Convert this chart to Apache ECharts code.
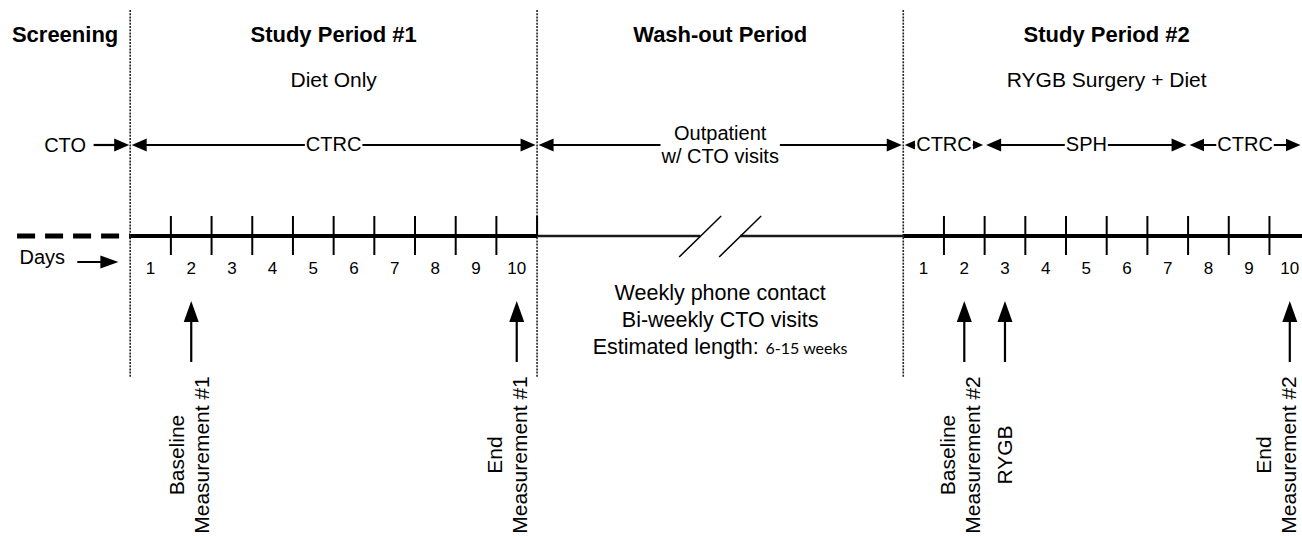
<!DOCTYPE html>
<html>
<head>
<meta charset="utf-8">
<script src="https://cdn.jsdelivr.net/npm/echarts@6/dist/echarts.min.js"></script>
<style>
html,body{margin:0;padding:0;background:#fff;}
#c{width:1302px;height:540px;}
</style>
</head>
<body>
<div id="c"></div>
<script>
// ================= DATA (timeline units: one unit = one study day) =================
const periodNames      = ['Screening', 'Study Period #1', 'Wash-out Period', 'Study Period #2'];
const periodSubtitles  = ['', 'Diet Only', '', 'RYGB Surgery + Diet'];
const periodStarts     = [-3.2, 0, 10, 19];
const periodEnds       = [0, 10, 19, 29];
const dayLabels        = ['1', '2', '3', '4', '5', '6', '7', '8', '9', '10'];
const studyPeriodStarts = [0, 19];

const screeningLocation = 'CTO';
const locationNames = ['CTRC', 'Outpatient\nw/ CTO visits', 'CTRC', 'SPH', 'CTRC'];
const locationFrom  = [0, 10, 19, 21, 26];
const locationTo    = [10, 19, 21, 26, 28.8];   // last one runs off the right edge

const measurementLabels = ['Baseline\nMeasurement #1', 'End\nMeasurement #1',
                           'Baseline\nMeasurement #2', 'RYGB', 'End\nMeasurement #2'];
const measurementPeriodStart = [0, 0, 19, 19, 19];
const measurementDay         = [2, 10, 2, 3, 10];

const washoutNotes       = ['Weekly phone contact', 'Bi-weekly CTO visits'];
const washoutLengthLabel = 'Estimated length:';
const washoutLengthValue = '6-15 weeks';
const daysLabel          = 'Days';

// ================= LAYOUT / STYLE =================
const X_MIN = -3.2, X_MAX = 28.8;
const ROW = { divTop: 10, divBottom: 378, header: 34, sub: 79, loc: 145, line: 236,
              days: 268, daysWord: 257, daysArrow: 262, measTop: 301, measBottom: 362,
              measLabel: 455, notes: [293, 320, 347] };
const LAYOUT = { screeningDashFrom: -2.78, ctoArrowFrom: -0.9, daysWordX: -2.72,
                 daysArrowFrom: -1.3, daysArrowTo: -0.29,
                 measLabelShiftPx: [-2, -10, -4, 0, -14] };
const FONT = '"Liberation Sans", Arial, Helvetica, sans-serif';
const INK = '#000';

const chart = echarts.init(document.getElementById('c'), null, { renderer: 'svg', width: 1302, height: 540 });

function text(x, y, str, font, extra) {
  return Object.assign({ type: 'text', x: x, y: y,
    style: Object.assign({ text: str, font: font, fill: INK, align: 'center', verticalAlign: 'middle' }, extra || {}) });
}
function seg(x1, y1, x2, y2, w, dash, color) {
  return { type: 'line', shape: { x1: x1, y1: y1, x2: x2, y2: y2 },
           style: { stroke: color || INK, lineWidth: w, lineDash: dash || null, lineCap: 'butt' } };
}
function tri(pts) { return { type: 'polygon', shape: { points: pts }, style: { fill: INK } }; }
function hHead(tipX, y, dir, len, hw) {
  return tri([[tipX, y], [tipX - dir * len, y - hw], [tipX - dir * len, y + hw]]);
}
function custom(name, data, render, z) {
  return { type: 'custom', name: name, data: data, z: z || 2, silent: true, clip: false,
           animation: false, renderItem: function (params, api) { return render(params.dataIndex, api); } };
}

const series = [];

// dotted period dividers
series.push(custom('dividers', periodStarts.slice(1).map(x => [x, ROW.divTop]), (i, api) => {
  const x = periodStarts[i + 1];
  const a = api.coord([x, ROW.divTop]), b = api.coord([x, ROW.divBottom]);
  return seg(a[0], a[1], b[0], b[1], 1.6, [2, 1.2], '#222');
}, 1));

// period headers + subtitles
series.push(custom('headers', periodNames.map((n, i) => [(periodStarts[i] + periodEnds[i]) / 2, ROW.header]), (i, api) => {
  const cx = (periodStarts[i] + periodEnds[i]) / 2;
  const p = api.coord([cx, ROW.header]), q = api.coord([cx, ROW.sub]);
  const ch = [text(p[0], p[1], periodNames[i], 'bold 22px ' + FONT)];
  if (periodSubtitles[i]) ch.push(text(q[0], q[1], periodSubtitles[i], '21px ' + FONT));
  return { type: 'group', children: ch };
}));

// CTO arrow in screening
series.push(custom('cto', [[LAYOUT.ctoArrowFrom, ROW.loc]], (i, api) => {
  const a = api.coord([LAYOUT.ctoArrowFrom, ROW.loc]), b = api.coord([0, ROW.loc]);
  const t = api.coord([(periodStarts[0] + periodEnds[0]) / 2, ROW.loc]);
  const tip = b[0] - 1;
  return { type: 'group', children: [
    seg(a[0], a[1], tip - 10, a[1], 2.2),
    hHead(tip, a[1], 1, 15, 6.5),
    text(t[0], t[1], screeningLocation, '20px ' + FONT)
  ] };
}));

// location double arrows
series.push(custom('locations', locationNames.map((n, i) => [locationFrom[i], ROW.loc]), (i, api) => {
  const a = api.coord([locationFrom[i], ROW.loc]), b = api.coord([locationTo[i], ROW.loc]);
  const x0 = a[0] + 1.5, x1 = b[0] - 1.5, y = a[1];
  const len = Math.min(15, (x1 - x0) * 0.13), hw = len * 0.43;
  const m = api.coord([(locationFrom[i] + locationTo[i]) / 2, ROW.loc]);
  return { type: 'group', children: [
    seg(x0 + len - 2, y, x1 - len + 2, y, 2.2),
    hHead(x0, y, -1, len, hw),
    hHead(x1, y, 1, len, hw),
    text(m[0], y - 1, locationNames[i], '20px ' + FONT,
         { backgroundColor: '#fff', padding: [0, 1], lineHeight: 23 })
  ] };
}, 3));

// timeline
series.push(custom('timeline', [[periodStarts[1], ROW.line]], (i, api) => {
  const y = api.coord([0, ROW.line])[1];
  const X = v => api.coord([v, ROW.line])[0];
  const brk = X((periodStarts[2] + periodEnds[2]) / 2);
  const ch = [
    seg(X(LAYOUT.screeningDashFrom), y, X(periodStarts[1]), y, 5, [18, 10]),
    seg(X(periodStarts[1]), y, X(periodEnds[1]), y, 4),
    seg(X(periodStarts[3]), y, X(X_MAX), y, 4),
    seg(X(periodStarts[2]), y, brk - 20, y, 2.6, null, '#1a1a1a'),
    seg(brk + 20, y, X(periodEnds[2]), y, 2.6, null, '#1a1a1a'),
    seg(brk - 41, y + 21, brk + 1, y - 20, 1.5),
    seg(brk - 1, y + 21, brk + 41, y - 20, 1.5),
    // end-of-period-1 boundary tick (upper half)
    seg(X(periodEnds[1]), y - 20, X(periodEnds[1]), y, 2)
  ];
  return { type: 'group', children: ch };
}));

// day ticks
const tickPositions = [];
studyPeriodStarts.forEach(s => { for (let k = 1; k < dayLabels.length; k++) tickPositions.push(s + k); });
series.push(custom('ticks', tickPositions.map(x => [x, ROW.line]), (i, api) => {
  const p = api.coord([tickPositions[i], ROW.line]);
  return seg(p[0], p[1] - 20, p[0], p[1] + 19, 2);
}));

// day labels
const dayItems = [];
studyPeriodStarts.forEach(s => dayLabels.forEach((d, k) => dayItems.push([s + k + 0.5, ROW.days, d])));
series.push(custom('days', dayItems.map(d => [d[0], d[1]]), (i, api) => {
  const p = api.coord([dayItems[i][0], dayItems[i][1]]);
  return text(p[0], p[1], dayItems[i][2], '17px ' + FONT);
}));

// "Days ->"
series.push(custom('daysWord', [[LAYOUT.daysWordX, ROW.daysWord]], (i, api) => {
  const p = api.coord([LAYOUT.daysWordX, ROW.daysWord]);
  const a = api.coord([LAYOUT.daysArrowFrom, ROW.daysArrow]), b = api.coord([LAYOUT.daysArrowTo, ROW.daysArrow]);
  return { type: 'group', children: [
    text(p[0], p[1], daysLabel, '20px ' + FONT, { align: 'left' }),
    seg(a[0], a[1], b[0] - 15, a[1], 2),
    hHead(b[0], a[1], 1, 18, 6.5)
  ] };
}));

// measurement arrows + rotated labels
series.push(custom('measurements', measurementLabels.map((m, i) => [measurementPeriodStart[i] + measurementDay[i] - 0.5, ROW.measTop]), (i, api) => {
  const x = measurementPeriodStart[i] + measurementDay[i] - 0.5;
  const t = api.coord([x, ROW.measTop]), b = api.coord([x, ROW.measBottom]);
  const l = api.coord([x, ROW.measLabel]);
  return { type: 'group', children: [
    seg(t[0], t[1] + 16, b[0], b[1], 2.2),
    tri([[t[0], t[1]], [t[0] - 7.5, t[1] + 21], [t[0] + 7.5, t[1] + 21]]),
    { type: 'text', x: l[0] + LAYOUT.measLabelShiftPx[i], y: l[1], rotation: Math.PI / 2,
      style: { text: measurementLabels[i], font: '21px ' + FONT, fill: INK, align: 'center',
               verticalAlign: 'middle', lineHeight: 25 } }
  ] };
}));

// wash-out notes
series.push(custom('washout', ROW.notes.map(y => [(periodStarts[2] + periodEnds[2]) / 2, y]), (i, api) => {
  const p = api.coord([(periodStarts[2] + periodEnds[2]) / 2, ROW.notes[i]]);
  if (i < washoutNotes.length) return text(p[0], p[1], washoutNotes[i], '21.5px ' + FONT);
  return { type: 'text', x: p[0], y: p[1], style: {
    text: '{a|' + washoutLengthLabel + '}  {b|' + washoutLengthValue + '}',
    align: 'center', verticalAlign: 'middle',
    rich: { a: { font: '21.5px ' + FONT, fill: INK }, b: { font: '16px Lato, "Open Sans", sans-serif', fill: INK } } } };
}));

chart.setOption({
  animation: false,
  backgroundColor: '#fff',
  grid: { left: 0, right: 0, top: 0, bottom: 0, containLabel: false },
  xAxis: { type: 'value', min: X_MIN, max: X_MAX, show: false },
  yAxis: { type: 'value', min: 0, max: 540, inverse: true, show: false },
  series: series
});
</script>
</body>
</html>
